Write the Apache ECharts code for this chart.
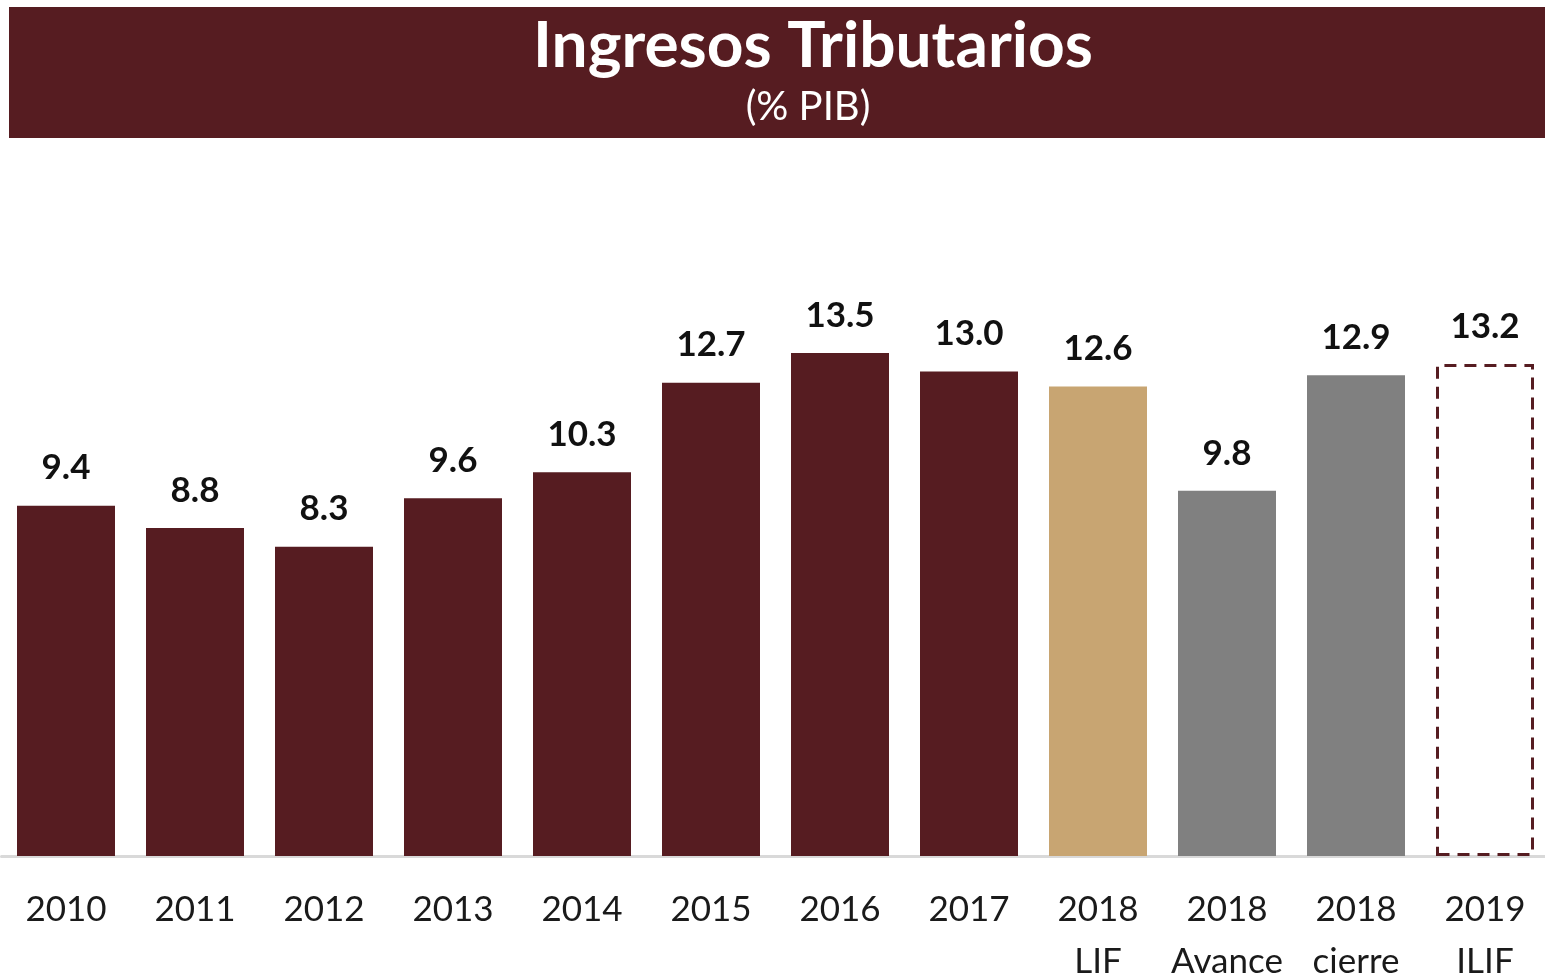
<!DOCTYPE html>
<html><head><meta charset="utf-8">
<script src="https://cdn.jsdelivr.net/npm/echarts@6/dist/echarts.min.js"></script>
<style>html,body{margin:0;padding:0;background:#fff}#c{width:1545px;height:978px}</style>
</head><body><div id="c"></div>
<script>
var titleText = 'Ingresos Tributarios';
var subtitleText = '(% PIB)';
var categories = ['2010','2011','2012','2013','2014','2015','2016','2017','2018\nLIF','2018\nAvance','2018\ncierre','2019\nILIF'];
var values = [9.4, 8.8, 8.3, 9.6, 10.3, 12.7, 13.5, 13.0, 12.6, 9.8, 12.9, 13.2];
var barKinds = ['main','main','main','main','main','main','main','main','lif','gray','gray','dashed'];

var MAROON = '#561c21';
var styles = {
  main: {color: MAROON},
  lif: {color: '#c8a572'},
  gray: {color: '#808080'},
  dashed: {color: '#ffffff', borderColor: MAROON, borderWidth: 3, borderType: [12, 8]}
};
var data = values.map(function(v, i){ return {value: v, itemStyle: styles[barKinds[i]]}; });

var chart = echarts.init(document.getElementById('c'), null, {renderer: 'canvas'});
chart.setOption({
  animation: false,
  graphic: [
    {type: 'rect', shape: {x: 9, y: 7, width: 1536, height: 131}, style: {fill: MAROON}, z: 0},
    {type: 'text', x: 813, y: 46, style: {text: titleText, fill: '#ffffff', font: 'bold 64px Lato', textAlign: 'center', textVerticalAlign: 'middle'}, z: 1},
    {type: 'text', x: 808, y: 107, style: {text: subtitleText, fill: '#ffffff', font: '40px Lato', textAlign: 'center', textVerticalAlign: 'middle'}, z: 1}
  ],
  grid: {left: 1.5, width: 1548, top: 297, bottom: 122, containLabel: false, outerBoundsMode: 'none'},
  xAxis: {
    type: 'category', data: categories,
    axisLine: {lineStyle: {color: '#d9d9d9', width: 3}},
    axisTick: {show: false},
    axisLabel: {color: '#1a1a1a', fontFamily: 'Lato', fontSize: 35, lineHeight: 52, margin: 28, interval: 0}
  },
  yAxis: {type: 'value', min: 0, max: 15, show: false, splitLine: {show: false}},
  series: [{
    type: 'bar', data: data, barWidth: 98,
    label: {show: true, position: 'top', distance: 20, color: '#111', fontFamily: 'Lato', fontWeight: 'bold', fontSize: 35,
      formatter: function(p){ return p.value.toFixed(1); }}
  }]
});
</script></body></html>
